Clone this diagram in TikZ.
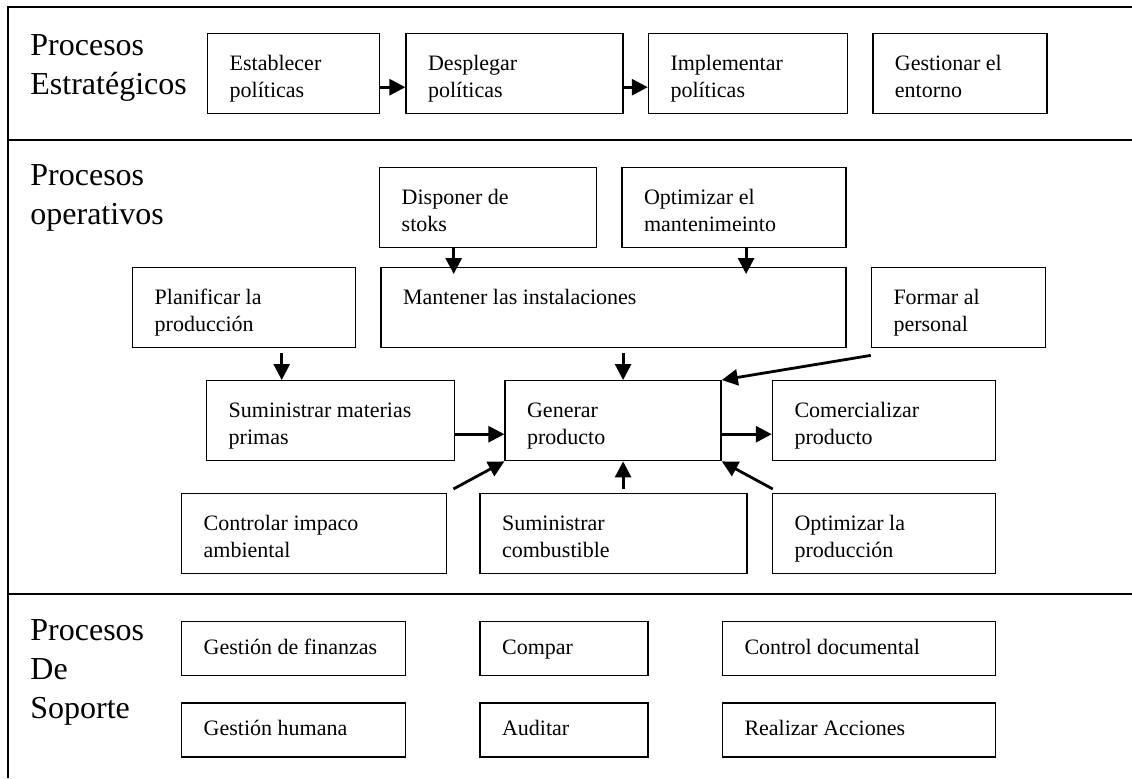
\documentclass[tikz,border=0pt]{standalone}
\usepackage{fontspec}
\setmainfont{Liberation Serif}
\usetikzlibrary{arrows.meta, positioning}

\begin{document}
\begin{tikzpicture}[
    x=0.5pt, y=-0.5pt,
    node distance=12pt,
    % Styles
    cuadro/.style={
        rectangle,
        draw=black,
        line width=0.7pt,
        text width=#1,
        inner xsep=11pt,
        inner ysep=0pt,
        align=flush left,
        font=\fontsize{11}{13.5}\selectfont,
        execute at end node=\strut
      },
    caja/.style={
        cuadro=#1,
        minimum height=40pt,
        execute at begin node=\rule{0pt}{14.5pt}
      },
    soporte/.style={
        cuadro=#1,
        minimum height=27pt,
        execute at begin node=\strut
      },
    titulo/.style={
        anchor=north west,
        inner sep=0pt,
        align=flush left,
        font=\fontsize{16}{19.5}\selectfont
      },
    flecha/.style={
        -{Triangle[length=8pt, width=8pt]},
        line width=1.4pt
      },
    marco/.style={line width=0.6pt}
  ]
  \useasboundingbox (0,0) rectangle (1132,778);

  % Frame and bands
  \draw[marco] (8,778) -- (8,7) -- (1132,7);
  \draw[marco] (8,140) -- (1132,140);
  \draw[marco] (8,594) -- (1132,594);

  % Titles
  \node[titulo] (tit1) at (30,34) {Procesos\\Estratégicos};
  \node[titulo] (tit2) at (30,164) {Procesos\\operativos};
  \node[titulo] (tit3) at (30,619) {Procesos\\De\\Soporte};

  % Strategic processes
  \node[caja=64pt, anchor=north west] (estab) at (207,33) {Establecer\\políticas};
  \node[caja=86.5pt, right=12.5pt of estab] (despl) {Desplegar\\políticas};
  \node[caja=77.5pt, right=12pt of despl] (impl) {Implementar\\políticas};
  \node[caja=65pt, right=12pt of impl] (gest) {Gestionar el\\entorno};

  % Operative processes
  \node[caja=86.5pt, anchor=north west] (disp) at (379,167) {Disponer de\\stoks};
  \node[caja=90pt, right=12pt of disp] (optm) {Optimizar el\\mantenimeinto};

  \node[caja=89.5pt, anchor=north west] (plan) at (132,267) {Planificar la\\producción};
  \node[caja=210.5pt, right=12pt of plan] (mant) {Mantener las instalaciones\\};
  \node[caja=65pt, right=12pt of mant] (form) {Formar al\\personal};

  \node[caja=102pt, anchor=north west] (summ) at (206,380) {Suministrar materias\\primas};
  \node[caja=86pt, right=24.5pt of summ] (gen) {Generar\\producto};
  \node[caja=89.5pt, right=25pt of gen] (com) {Comercializar\\producto};

  \node[caja=110.5pt, anchor=north west] (ctrl) at (181,493) {Controlar impaco\\ambiental};
  \node[caja=111.5pt, right=16pt of ctrl] (comb) {Suministrar\\combustible};
  \node[caja=89.5pt, right=12pt of comb] (optp) {Optimizar la\\producción};

  % Support processes
  \node[soporte=90pt, anchor=north west] (gfin) at (181,621) {Gestión de finanzas};
  \node[soporte=62pt, right=36.5pt of gfin] (comp) {Compar};
  \node[soporte=114.5pt, right=36.5pt of comp] (cdoc) {Control documental};
  \node[soporte=90pt, below=13pt of gfin] (ghum) {Gestión humana};
  \node[soporte=62pt, below=13pt of comp] (aud) {Auditar};
  \node[soporte=114.5pt, below=13pt of cdoc] (racc) {Realizar Acciones};

  % Arrows
  \draw[flecha] ([yshift=-6.75pt]estab.east) -- ([yshift=-6.75pt]despl.west);
  \draw[flecha] ([yshift=-6.75pt]despl.east) -- ([yshift=-6.75pt]impl.west);

  \draw[flecha, shorten >=-3.5pt] ([xshift=-17.25pt]disp.south) -- ([xshift=-17.25pt]disp.south |- mant.north);
  \draw[flecha, shorten >=-3.5pt] ([xshift=6pt]optm.south) -- ([xshift=6pt]optm.south |- mant.north);
  \draw[flecha, shorten <=2.5pt] ([xshift=18.75pt]plan.south) -- ([xshift=18.75pt]plan.south |- summ.north);
  \draw[flecha, shorten <=2.5pt] ([xshift=5pt]gen.north |- mant.south) -- ([xshift=5pt]gen.north);
  \draw[flecha] ([yshift=-3.5pt]form.south west) -- (gen.north east);

  \draw[flecha] ([yshift=-6.75pt]summ.east) -- ([yshift=-6.75pt]gen.west);
  \draw[flecha] ([yshift=-6.75pt]gen.east) -- ([yshift=-6.75pt]com.west);

  \draw[flecha] ([shift={(3pt,2pt)}]ctrl.north east) -- (gen.south west);
  \draw[flecha, shorten <=2pt] ([xshift=5pt]gen.south |- comb.north) -- ([xshift=5pt]gen.south);
  \draw[flecha] ([shift={(0.5pt,2pt)}]optp.north west) -- (gen.south east);

\end{tikzpicture}
\end{document}
